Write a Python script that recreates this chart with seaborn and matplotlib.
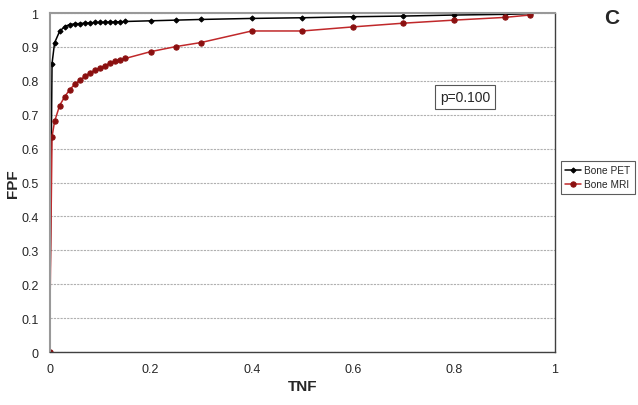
import numpy as np
import pandas as pd
import seaborn as sns
import matplotlib.pyplot as plt

# valores
tnf = [0, 0.005, 0.01, 0.02, 0.03, 0.04, 0.05, 0.06, 0.07, 0.08, 0.09, 0.10,
       0.11, 0.12, 0.13, 0.14, 0.15, 0.2, 0.25, 0.3, 0.4, 0.5, 0.6, 0.7, 0.8, 0.9, 0.95]
fpf_pet = [0, 0.851, 0.912, 0.946, 0.960, 0.966, 0.968, 0.969, 0.970, 0.971, 0.972, 0.972,
           0.973, 0.973, 0.974, 0.974, 0.975, 0.977, 0.979, 0.981, 0.984, 0.986, 0.989,
           0.991, 0.994, 0.996, 0.998]
fpf_mri = [0, 0.635, 0.680, 0.727, 0.753, 0.774, 0.790, 0.802, 0.813, 0.823, 0.831, 0.838,
           0.845, 0.852, 0.858, 0.861, 0.866, 0.886, 0.901, 0.913, 0.947, 0.947, 0.959,
           0.970, 0.979, 0.987, 0.994]
p_text = "p=0.100"

df = pd.DataFrame({"TNF": tnf * 2,
                   "FPF": fpf_pet + fpf_mri,
                   "serie": ["Bone PET"] * len(tnf) + ["Bone MRI"] * len(tnf)})

sns.set_style("white")
plt.rcParams['font.family'] = ['Liberation Sans', 'DejaVu Sans']

fig = plt.figure(figsize=(6.38, 4.06), dpi=100)
ax = fig.add_axes([0.0776, 0.1305, 0.7924, 0.835])

sns.lineplot(data=df[df.serie == "Bone PET"], x="TNF", y="FPF", ax=ax,
             color="black", lw=1.1, marker="D", markersize=2.6,
             markerfacecolor="black", markeredgecolor="black", label="Bone PET")
sns.lineplot(data=df[df.serie == "Bone MRI"], x="TNF", y="FPF", ax=ax,
             color="#c0282a", lw=1.1, marker="o", markersize=3.8,
             markerfacecolor="#8b1010", markeredgecolor="#8b1010", label="Bone MRI")

ax.set_xlim(0, 1)
ax.set_ylim(0, 1)
ax.set_xticks(np.arange(0, 1.01, 0.2))
ax.set_xticklabels(["0", "0.2", "0.4", "0.6", "0.8", "1"], fontsize=9)
ax.set_yticks(np.arange(0, 1.01, 0.1))
ax.set_yticklabels(["0"] + [f"{v:.1f}" for v in np.arange(0.1, 0.95, 0.1)] + ["1"], fontsize=9)
ax.tick_params(axis="both", direction="out", length=5, width=0.8, color="#555555", pad=3)
ax.yaxis.grid(True, linestyle=(0, (2, 1)), color="#b0b0b0", lw=0.8)
ax.xaxis.grid(False)

for s in ["top", "left"]:
    ax.spines[s].set_color("#999999")
    ax.spines[s].set_linewidth(1.5)
for s in ["right", "bottom"]:
    ax.spines[s].set_color("#404040")
    ax.spines[s].set_linewidth(1.0)

ax.set_xlabel("TNF", fontsize=11, fontweight="bold", labelpad=3)
ax.set_ylabel("FPF", fontsize=11, fontweight="bold", labelpad=1)

ax.text(0.822, 0.752, p_text, fontsize=10, ha="center", va="center",
        bbox=dict(boxstyle="square,pad=0.35", fc="white", ec="#555555", lw=0.8))
fig.text(0.958, 0.955, "C", fontsize=15, fontweight="bold", ha="center", va="center")

leg = ax.legend(loc="center left", bbox_to_anchor=(1.002, 0.515), fontsize=7.3,
                frameon=True, fancybox=False, edgecolor="#333333",
                handlelength=1.6, handletextpad=0.3, borderpad=0.4, labelspacing=0.4)
leg.get_frame().set_linewidth(0.8)

fig.savefig("out.png", dpi=100)
